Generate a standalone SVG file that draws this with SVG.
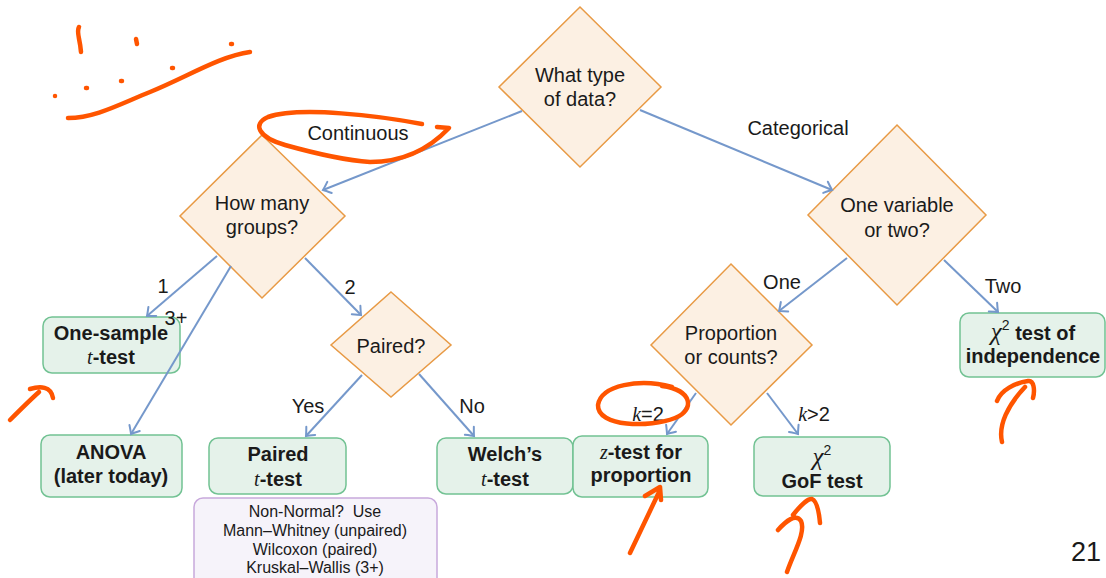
<svg xmlns="http://www.w3.org/2000/svg" width="1106" height="578" viewBox="0 0 1106 578">
<style>
text{font-family:"Liberation Sans",Arial,sans-serif;fill:#1a1a1a;text-anchor:middle}
.q{fill:#fcf0e3;stroke:#e89a45;stroke-width:1.5}
.b{fill:#e5f2ea;stroke:#72c293;stroke-width:1.5}
.n{fill:#f6f3fa;stroke:#c8a9dc;stroke-width:1.5}
.t{font-size:20px}
.bt{font-size:20px;font-weight:bold}
.m{font-family:"Liberation Serif",serif;font-style:italic;font-weight:normal}
.chi{font-family:"Liberation Serif",serif;font-style:italic;font-weight:normal;font-size:25px}
.sup{font-size:14px;font-weight:normal}
.c{stroke:#7598cb;stroke-width:2;fill:none;marker-end:url(#ah)}
.ink{stroke:#ff5500;stroke-width:4.5;fill:none;stroke-linecap:round;stroke-linejoin:round}
</style>
<defs>
<marker id="ah" markerUnits="userSpaceOnUse" markerWidth="16" markerHeight="16" refX="0" refY="0" viewBox="-10 -8 12 16" orient="auto" overflow="visible">
<path d="M-7,-6 Q-2,-1.5 0,0 Q-2,1.5 -7,6" fill="none" stroke="#7598cb" stroke-width="2" stroke-linecap="round"/>
</marker>
</defs>
<rect width="1106" height="578" fill="#fff"/>
<g id="q-type">
<polygon class="q" points="580,7 661,87 580,167 499,87"/>
<text class="t" x="580" y="82">What type</text>
<text class="t" x="580" y="106">of data?</text>
</g>
<g id="q-groups">
<polygon class="q" points="262,135 345,216 262,298 180,216"/>
<text class="t" x="262" y="210">How many</text>
<text class="t" x="262" y="234">groups?</text>
</g>
<g id="q-vars">
<polygon class="q" points="897,125 986,215 897,305 808,215"/>
<text class="t" x="897" y="212">One variable</text>
<text class="t" x="897" y="237">or two?</text>
</g>
<g id="q-prop">
<polygon class="q" points="731,264 812,345 731,425 651,345"/>
<text class="t" x="731" y="340">Proportion</text>
<text class="t" x="731" y="364">or counts?</text>
</g>
<g id="q-paired">
<polygon class="q" points="391,292 451,345 391,397 331,345"/>
<text class="t" x="391" y="353">Paired?</text>
</g>
<g id="onesample">
<rect class="b" x="43" y="317" width="137" height="56" rx="9"/>
<text class="bt" x="111" y="340">One-sample</text>
<text class="bt" x="111" y="364"><tspan class="m">t</tspan>-test</text>
</g>
<g id="anova">
<rect class="b" x="41" y="435" width="141" height="62" rx="9"/>
<text class="bt" x="111" y="459">ANOVA</text>
<text class="bt" x="111" y="483">(later today)</text>
</g>
<g id="pairedt">
<rect class="b" x="209" y="438" width="137" height="56" rx="9"/>
<text class="bt" x="278" y="461">Paired</text>
<text class="bt" x="278" y="486"><tspan class="m">t</tspan>-test</text>
</g>
<g id="welch">
<rect class="b" x="437" y="438" width="136" height="56" rx="9"/>
<text class="bt" x="505" y="461">Welch’s</text>
<text class="bt" x="505" y="486"><tspan class="m">t</tspan>-test</text>
</g>
<g id="ztest">
<rect class="b" x="573" y="436" width="135" height="61" rx="9"/>
<text class="bt" x="641" y="459"><tspan class="m">z</tspan>-test for</text>
<text class="bt" x="641" y="482">proportion</text>
</g>
<g id="gof">
<rect class="b" x="754" y="437" width="136" height="59" rx="9"/>
<text class="t" x="822" y="465"><tspan class="chi">χ</tspan><tspan class="sup" dy="-10">2</tspan></text>
<text class="bt" x="822" y="488">GoF test</text>
</g>
<g id="indep">
<rect class="b" x="960" y="313" width="145" height="64" rx="9"/>
<text class="bt" x="1033" y="340"><tspan class="chi">χ</tspan><tspan class="sup" dy="-10">2</tspan><tspan dy="10"> test of</tspan></text>
<text class="bt" x="1033" y="363">independence</text>
</g>
<g id="note">
<rect class="n" x="194" y="498" width="243" height="95" rx="9"/>
<text x="315" y="517" font-size="16">Non-Normal?&#160; Use</text>
<text x="315" y="536" font-size="16">Mann–Whitney (unpaired)</text>
<text x="315" y="555" font-size="16">Wilcoxon (paired)</text>
<text x="315" y="573" font-size="16">Kruskal–Wallis (3+)</text>
</g>
<g id="connectors">
<line class="c" x1="522" y1="111" x2="323" y2="190"/>
<line class="c" x1="640" y1="110" x2="832" y2="190"/>
<line class="c" x1="217" y1="256" x2="147" y2="316"/>
<line class="c" x1="231" y1="266" x2="131" y2="434"/>
<line class="c" x1="305" y1="258" x2="361" y2="315"/>
<line class="c" x1="362" y1="375" x2="306" y2="436"/>
<line class="c" x1="419" y1="374" x2="474" y2="436"/>
<line class="c" x1="847" y1="258" x2="779" y2="311"/>
<line class="c" x1="944" y1="260" x2="998" y2="312"/>
<line class="c" x1="696" y1="393" x2="667" y2="434"/>
<line class="c" x1="767" y1="393" x2="798" y2="434"/>
<text class="t" x="358" y="140">Continuous</text>
<text class="t" x="798" y="135">Categorical</text>
<text class="t" x="163" y="293">1</text>
<text class="t" x="176" y="325">3+</text>
<text class="t" x="350" y="294">2</text>
<text class="t" x="308" y="413">Yes</text>
<text class="t" x="472" y="413">No</text>
<text class="t" x="782" y="289">One</text>
<text class="t" x="1003" y="293">Two</text>
<text class="t" x="648" y="421"><tspan class="m">k</tspan>=2</text>
<text class="t" x="814" y="421"><tspan class="m">k</tspan>&gt;2</text>
</g>
<g id="page">
<text x="1086" y="561" font-size="27">21</text>
</g>
<g id="annotations">
<path class="ink" d="M79,27 C76,32 80,38 81,52"/>
<path class="ink" d="M136,39 L137,44"/>
<path class="ink" d="M231,44 L232,44"/>
<path class="ink" d="M172,68 L173,68"/>
<path class="ink" d="M121,81 L122,81"/>
<path class="ink" d="M86,88 L87,88"/>
<path class="ink" d="M55,96 L55,96"/>
<path class="ink" d="M68,118 C95,118 120,104 150,92 C185,78 220,56 250,52"/>
<path class="ink" d="M422,124 C380,116 300,106 268,117 C252,124 258,137 285,145 C310,152 340,160 370,162 C405,162 430,148 449,128 L437,127"/>
<path class="ink" d="M10,420 C18,412 30,400 39,392 M30,389 C40,386 51,386 53,398"/>
<path class="ink" d="M672,387 C640,378 601,385 598,405 C597,427 650,428 675,418 C695,410 693,390 662,386"/>
<path class="ink" d="M630,553 L660,490 M645,496 L660,487 L661,500"/>
<path class="ink" d="M787,572 C794,552 806,532 801,521 C796,513 786,521 778,530 M793,515 C800,506 808,498 812,499 C817,501 819,512 820,523"/>
<path class="ink" d="M1002,442 C998,425 1008,405 1025,387 M997,401 C1001,390 1015,383 1028,381 C1034,380 1035,390 1033,398"/>
</g>
</svg>
